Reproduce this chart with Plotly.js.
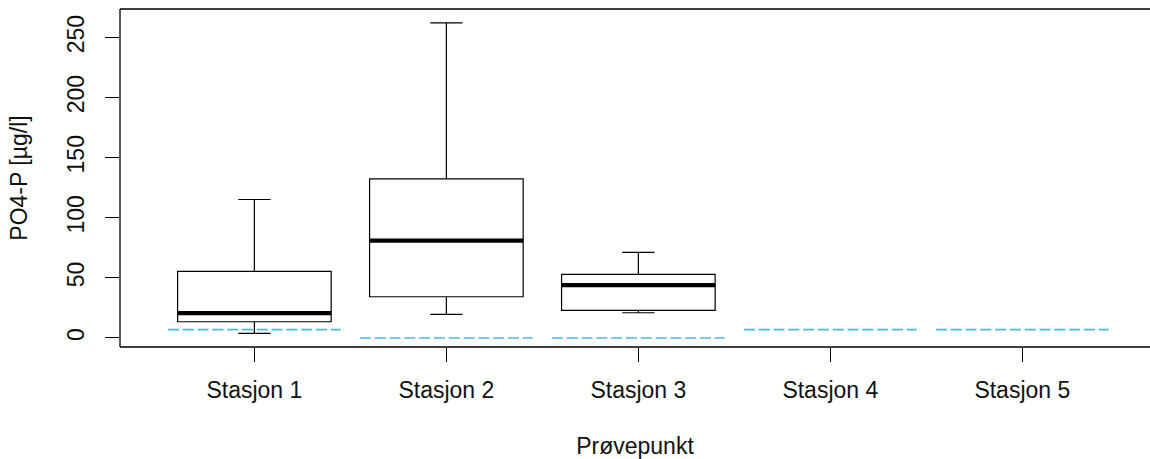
<!DOCTYPE html>
<html>
<head>
<meta charset="utf-8">
<script src="https://cdn.plot.ly/plotly-3.0.1.min.js"></script>
<style>
  html, body { margin: 0; padding: 0; background: #ffffff; }
  #chart { width: 1150px; height: 459px; }
</style>
</head>
<body>
<div id="chart"></div>
<script>
// Sampling stations (x positions 1..5)
const stations = ["Stasjon 1", "Stasjon 2", "Stasjon 3", "Stasjon 4", "Stasjon 5"];
const stationPos = [1, 2, 3, 4, 5];

// Box statistics for the stations with measurements (PO4-P, µg/l)
const boxPos = [1, 2, 3];
const lowerWhisker = [3.9, 19.7, 21.0];
const q1Values = [13.5, 34.3, 23.0];
const medianValues = [20.6, 81.0, 44.0];
const q3Values = [55.4, 132.3, 52.9];
const upperWhisker = [115.2, 262.2, 71.2];

// Reference level per station (dashed blue lines)
const refLevels = [7, 0, 0, 7, 7];

const yTicks = [0, 50, 100, 150, 200, 250];

const fontFamily = "Liberation Sans, Arial, sans-serif";
const fontSize = 23;
const boxHalf = 0.4;
const refHalf = 0.45;

// Thick median bars drawn over the boxes
const medX = [], medY = [];
boxPos.forEach((p, i) => {
  medX.push(p - boxHalf, p + boxHalf, null);
  medY.push(medianValues[i], medianValues[i], null);
});

// Dashed reference segments, one per station
const refX = [], refY = [];
stationPos.forEach((p, i) => {
  refX.push(p - refHalf, p + refHalf, null);
  refY.push(refLevels[i], refLevels[i], null);
});

const traces = [
  {
    type: "box",
    x: boxPos,
    q1: q1Values,
    median: medianValues,
    q3: q3Values,
    lowerfence: lowerWhisker,
    upperfence: upperWhisker,
    width: 2 * boxHalf,
    whiskerwidth: 0.21,
    fillcolor: "rgba(255,255,255,0)",
    line: { color: "#000000", width: 1.2 },
    boxpoints: false,
    hoverinfo: "skip",
    showlegend: false
  },
  {
    type: "scatter",
    mode: "lines",
    x: medX,
    y: medY,
    line: { color: "#000000", width: 4.3 },
    hoverinfo: "skip",
    showlegend: false
  },
  {
    type: "scatter",
    mode: "lines",
    x: refX,
    y: refY,
    line: { color: "#56B4E9", width: 1.7, dash: "11px,3.8px" },
    hoverinfo: "skip",
    showlegend: false
  }
];

const textFont = { family: fontFamily, size: fontSize, color: "#111111" };
const frameLine = { color: "#000000", width: 1.3 };

const layout = {
  width: 1150,
  height: 459,
  margin: { l: 120, r: 0, t: 9, b: 112, pad: 0 },
  paper_bgcolor: "#ffffff",
  plot_bgcolor: "#ffffff",
  font: textFont,
  showlegend: false,
  xaxis: {
    range: [0.3, 5.665],
    tickmode: "array",
    tickvals: stationPos,
    ticktext: stations,
    ticks: "outside",
    ticklen: 14,
    tickwidth: 1,
    tickcolor: "#000000",
    ticklabelstandoff: 8,
    showgrid: false,
    zeroline: false,
    showline: false,
    tickfont: textFont,
    title: { text: "Prøvepunkt", standoff: 36, font: textFont }
  },
  yaxis: {
    range: [-7.5, 273.7],
    tickmode: "array",
    tickvals: yTicks,
    ticktext: yTicks.map(String),
    tickangle: -90,
    ticks: "outside",
    ticklen: 14,
    tickwidth: 1,
    tickcolor: "#000000",
    ticklabelstandoff: 12,
    showgrid: false,
    zeroline: false,
    showline: false,
    tickfont: textFont,
    title: { text: "PO4-P [µg/l]", standoff: 28, font: textFont }
  },
  // Plot frame: left, top and bottom edges (right edge lies past the page)
  shapes: [
    { type: "line", xref: "paper", yref: "paper", x0: 0, x1: 0, y0: 0, y1: 1, line: frameLine, layer: "above" },
    { type: "line", xref: "paper", yref: "paper", x0: 0, x1: 1, y0: 1, y1: 1, line: frameLine, layer: "above" },
    { type: "line", xref: "paper", yref: "paper", x0: 0, x1: 1, y0: 0, y1: 0, line: frameLine, layer: "above" }
  ]
};

Plotly.newPlot("chart", traces, layout, { displayModeBar: false, staticPlot: true });
</script>
</body>
</html>
